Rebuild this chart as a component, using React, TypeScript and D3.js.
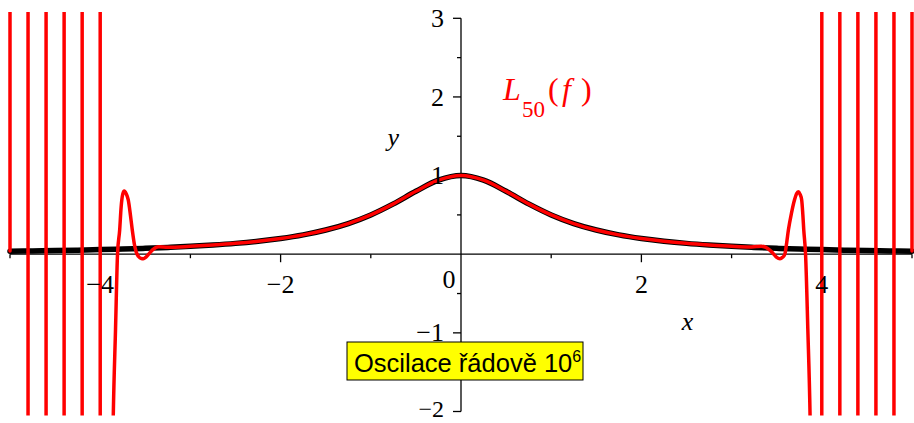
import React from "react";
import * as d3 from "d3";

// f(x) = 1/(1+x^2), sampled on [-5, 5]
const fX = [
  -5, -4.75, -4.5, -4.25, -4, -3.75, -3.5, -3.25, -3, -2.75, -2.5, -2.25, -2, -1.75, -1.5, -1.25, -1, -0.75, -0.5, -0.25,
  0, 0.25, 0.5, 0.75, 1, 1.25, 1.5, 1.75, 2, 2.25, 2.5, 2.75, 3, 3.25, 3.5, 3.75, 4, 4.25, 4.5, 4.75, 5,
];
const fY = [
  0.038, 0.042, 0.047, 0.052, 0.059, 0.066, 0.075, 0.086, 0.1, 0.117, 0.138, 0.165, 0.2, 0.246, 0.308, 0.39, 0.5, 0.64, 0.8, 0.941,
  1, 0.941, 0.8, 0.64, 0.5, 0.39, 0.308, 0.246, 0.2, 0.165, 0.138, 0.117, 0.1, 0.086, 0.075, 0.066, 0.059, 0.052, 0.047, 0.042, 0.038,
];

// Lagrange interpolant L_50(f): nodes every 0.2, oscillations of order 10^6 near the ends
const lagX = [
  -5, -4.9, -4.8, -4.7, -4.6, -4.5, -4.4, -4.3, -4.2, -4.1, -4,
  -3.92, -3.875, -3.855, -3.83, -3.808, -3.784, -3.768, -3.75, -3.733, -3.712, -3.689, -3.665, -3.644, -3.62, -3.6,
  -3.575, -3.545, -3.522, -3.495, -3.46, -3.42, -3.385, -3.35, -3.25,
  -3, -2.75, -2.5, -2.25, -2, -1.75, -1.5, -1.25, -1, -0.75, -0.5, -0.25, 0,
  0.25, 0.5, 0.75, 1, 1.25, 1.5, 1.75, 2, 2.25, 2.5, 2.75, 3,
  3.2, 3.28, 3.33, 3.38, 3.42, 3.46, 3.5, 3.536, 3.565, 3.59, 3.61, 3.63, 3.665, 3.697, 3.72, 3.74, 3.758, 3.777, 3.79,
  3.8, 3.82, 3.845, 3.87, 3.89, 3.93,
  4, 4.1, 4.2, 4.3, 4.4, 4.5, 4.6, 4.7, 4.8, 4.9, 5,
];
const lagY = [
  0.04, 1.1e6, 0.04, -3.2e5, 0.045, 8.5e4, 0.05, -2.1e4, 0.055, 4.8e3, 0.06,
  -900, -3.6, -2.05, -0.95, 0.0, 0.31, 0.6, 0.765, 0.805, 0.77, 0.69, 0.5, 0.305, 0.12, 0.025,
  -0.03, -0.055, -0.057, -0.04, 0.005, 0.055, 0.085, 0.094, 0.088,
  0.1, 0.117, 0.138, 0.165, 0.2, 0.246, 0.308, 0.39, 0.5, 0.64, 0.8, 0.941, 1,
  0.941, 0.8, 0.64, 0.5, 0.39, 0.308, 0.246, 0.2, 0.165, 0.138, 0.117, 0.1,
  0.092, 0.098, 0.1, 0.088, 0.055, 0.01, -0.04, -0.057, -0.04, 0.0, 0.14, 0.31, 0.53, 0.69, 0.77, 0.795, 0.765, 0.69, 0.5,
  0.31, 0.0, -0.95, -2.05, -3.6, -900,
  0.06, 4.8e3, 0.055, -2.1e4, 0.05, 8.5e4, 0.045, -3.2e5, 0.04, 1.1e6, 0.04,
];

// Axis ticks
const xTicks = [-5, -4, -3, -2, -1, 1, 2, 3, 4, 5];
const xTickLabels = [-4, -2, 2, 4];
const yTicks = [-2, -1.5, -1, -0.5, 0.5, 1, 1.5, 2, 2.5, 3];
const yTickLabels = [-2, -1, 1, 2, 3];

const curveLabel = { main: "L", sub: "50", arg: "f" };
const noteText = "Oscilace řádově 10";
const noteExp = "6";

const fmt = (v: number) => (v < 0 ? "\u2212" + Math.abs(v) : String(v));

export default function App() {
  const W = 914;
  const H = 423;
  const x = d3.scaleLinear().domain([-5, 5]).range([10, 912]);
  const y = d3.scaleLinear().domain([-2, 3]).range([411.5, 18.3]);
  const clipTop = y(3.08);
  const clipBottom = y(-2.05);

  const fPath = d3
    .line<number>()
    .x((_, i) => x(fX[i]))
    .y((d) => y(d))
    .curve(d3.curveCatmullRom.alpha(0.5))(fY) as string;

  const lagPath = d3
    .line<number>()
    .x((_, i) => x(lagX[i]))
    .y((d) => y(d))
    .curve(d3.curveMonotoneX)(lagY) as string;

  const x0 = x(0);
  const y0 = y(0);
  const serif = "'Liberation Serif', 'Times New Roman', serif";
  const sans = "'Liberation Sans', Arial, sans-serif";
  const tickFont = 26;

  return (
    <svg
      width={W}
      height={H}
      viewBox={`0 0 ${W} ${H}`}
      style={{ position: "absolute", left: 0, top: 0, background: "#fff" }}
    >
      <defs>
        <clipPath id="plot-clip">
          <rect x={0} y={clipTop} width={W} height={clipBottom - clipTop} />
        </clipPath>
      </defs>

      {/* x axis */}
      <line x1={x(-5)} x2={x(5)} y1={y0} y2={y0} stroke="#000" strokeWidth={1.3} />
      {xTicks.map((t) => (
        <line
          key={`xt${t}`}
          x1={x(t)}
          x2={x(t)}
          y1={y0}
          y2={y0 + (t % 2 === 0 ? 8 : 4)}
          stroke="#000"
          strokeWidth={1.3}
        />
      ))}

      {/* y axis */}
      <line x1={x0} x2={x0} y1={y(-2)} y2={y(3)} stroke="#000" strokeWidth={1.3} />
      {yTicks.map((t) => (
        <line
          key={`yt${t}`}
          x1={x0 - (Number.isInteger(t) ? 8 : 4)}
          x2={x0}
          y1={y(t)}
          y2={y(t)}
          stroke="#000"
          strokeWidth={1.3}
        />
      ))}

      <g clipPath="url(#plot-clip)" fill="none" strokeLinejoin="round" strokeLinecap="round">
        <path d={fPath} stroke="#000" strokeWidth={5.5} />
        <path d={lagPath} stroke="#ff0000" strokeWidth={3.5} />
      </g>

      {/* tick labels */}
      {xTickLabels.map((t) => (
        <text key={`xl${t}`} x={x(t)} y={y0 + 39} textAnchor="middle" fontFamily={serif} fontSize={tickFont}>
          {fmt(t)}
        </text>
      ))}
      <text x={x0 - 12} y={y0 + 34} textAnchor="middle" fontFamily={serif} fontSize={tickFont}>
        0
      </text>
      {yTickLabels.map((t) => (
        <text
          key={`yl${t}`}
          x={x0 - 17}
          y={y(t)}
          dy={t === -2 ? "0.22em" : "0.33em"}
          textAnchor="end"
          fontFamily={serif}
          fontSize={t === -2 ? 24 : tickFont}
        >
          {fmt(t)}
        </text>
      ))}

      {/* axis names */}
      <text x={x(2.51)} y={330} textAnchor="middle" fontFamily={serif} fontStyle="italic" fontSize={26}>
        x
      </text>
      <text x={x(-0.75)} y={146} textAnchor="middle" fontFamily={serif} fontStyle="italic" fontSize={26}>
        y
      </text>

      {/* curve label */}
      <g fill="#ff0000" fontFamily={serif}>
        <text x={503} y={100} fontSize={32} fontStyle="italic">
          {curveLabel.main}
        </text>
        <text x={522} y={117} fontSize={23}>
          {curveLabel.sub}
        </text>
        <text x={548} y={100} fontSize={32}>
          (
        </text>
        <text x={562} y={100} fontSize={32} fontStyle="italic">
          {curveLabel.arg}
        </text>
        <text x={581} y={100} fontSize={32}>
          )
        </text>
      </g>

      {/* note box */}
      <rect x={347} y={342} width={236} height={38} fill="#ffff00" stroke="#000" strokeWidth={1} />
      <text x={354} y={372} fontFamily={sans} fontSize={25.5} fill="#000">
        {noteText}
        <tspan fontSize={16} dy={-10}>
          {noteExp}
        </tspan>
      </text>
    </svg>
  );
}
